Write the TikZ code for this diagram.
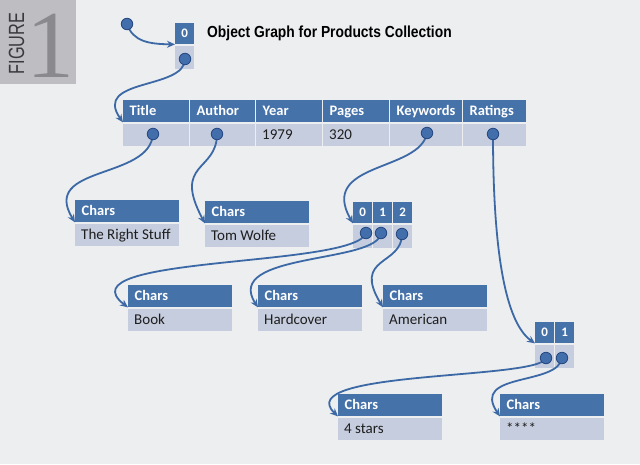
\documentclass[tikz,border=0pt]{standalone}
\usepackage{fontspec}
\setmainfont{Carlito}
\newfontfamily\titlefont{Liberation Sans}
\newfontfamily\serifnum{Liberation Serif}
\usetikzlibrary{arrows.meta}
\pgfdeclarelayer{fg}
\pgfsetlayers{main,fg}
\definecolor{bgc}{RGB}{236,238,240}
\definecolor{figgray}{RGB}{190,190,194}
\definecolor{figtxt}{RGB}{58,58,62}
\definecolor{onegray}{RGB}{138,138,142}
\definecolor{hdr}{RGB}{70,114,170}
\definecolor{bodyc}{RGB}{198,205,222}
\definecolor{txt}{RGB}{30,30,30}
\definecolor{lineblue}{RGB}{60,105,165}
\definecolor{dotfill}{RGB}{66,110,172}
\definecolor{dotdraw}{RGB}{38,72,128}
\begin{document}
\begin{tikzpicture}[x=1pt,y=-1pt,
  hcell/.style={fill=hdr, text=white, font=\bfseries\fontsize{14.5}{16}\selectfont, anchor=north west, inner xsep=6.5pt, inner ysep=0pt, minimum height=22pt, text height=10.8pt, text depth=1.8pt, align=flush left, text width=#1},
  bcell/.style={fill=bodyc, text=txt, font=\fontsize{15}{17}\selectfont, anchor=north west, inner xsep=6pt, inner ysep=0pt, minimum height=22pt, text height=11.2pt, text depth=2.4pt, align=flush left, text width=#1},
  icell/.style={fill=hdr, text=white, font=\bfseries\fontsize{13}{14}\selectfont, anchor=north west, inner sep=0pt, minimum width=19pt, minimum height=21pt},
  ecell/.style={fill=bodyc, anchor=north west, inner sep=0pt, minimum width=19pt, minimum height=23pt},
  dot/.style={circle, fill=dotfill, draw=dotdraw, line width=0.8pt, minimum size=11.5pt, inner sep=0pt},
  conn/.style={draw=lineblue, line width=1.8pt, -{Stealth[length=8pt,width=7pt]}},
]
\useasboundingbox (0,0) rectangle (640,464);
\fill[bgc] (0,0) rectangle (640,464);

% figure tag
\fill[figgray] (0,0) rectangle (76,84);
\node[rotate=90, text=figtxt, inner sep=0pt, font=\titlefont\fontsize{22}{22}\selectfont] (figword) at (16.5,43.5) {\scalebox{0.74}[1]{FIGURE}};
\node[text=onegray, inner sep=0pt, anchor=base, font=\serifnum\fontsize{96}{96}\selectfont] (fignum) at (51,77) {1};

% title
\node[anchor=base west, inner sep=0pt, text=black, font=\titlefont\bfseries\fontsize{16}{17}\selectfont] (title) at (207,37.5) {\scalebox{0.865}[1]{Object Graph for Products Collection}};

% root array
\node[icell] (r0h) at (175,23) {0};
\node[ecell] (r0b) at (175,46) {};

% main table
\node[hcell=52.5pt] (hT) at (123,100) {Title};
\node[hcell=51.5pt] (hA) at (190,100) {Author};
\node[hcell=52.5pt] (hY) at (256,100) {Year};
\node[hcell=52.5pt] (hP) at (323,100) {Pages};
\node[hcell=58.5pt] (hK) at (390,100) {Keywords};
\node[hcell=50pt]   (hR) at (463,100) {Ratings};
\node[bcell=53.5pt] (bT) at (123,124) {};
\node[bcell=52.5pt] (bA) at (190,124) {};
\node[bcell=53.5pt] (bY) at (256,124) {1979};
\node[bcell=53.5pt] (bP) at (323,124) {320};
\node[bcell=59.5pt] (bK) at (390,124) {};
\node[bcell=51pt]   (bR) at (463,124) {};

% chars boxes
\node[hcell=91pt] (c1h) at (75,200) {Chars};
\node[bcell=92pt] (c1b) at (75,224) {The Right Stuff};
\node[hcell=91pt] (c2h) at (205,201) {Chars};
\node[bcell=92pt] (c2b) at (205,225) {Tom Wolfe};
\node[hcell=91pt] (c3h) at (128,285) {Chars};
\node[bcell=92pt] (c3b) at (128,309) {Book};
\node[hcell=91pt] (c4h) at (258,285) {Chars};
\node[bcell=92pt] (c4b) at (258,309) {Hardcover};
\node[hcell=91pt] (c5h) at (383,285) {Chars};
\node[bcell=92pt] (c5b) at (383,309) {American};
\node[hcell=91pt] (c6h) at (338,394) {Chars};
\node[bcell=92pt] (c6b) at (338,418) {4 stars};
\node[hcell=91pt] (c7h) at (500,394) {Chars};
\node[bcell=92pt] (c7b) at (500,418) {****};

% keywords array
\node[icell] (k0h) at (353,202) {0};
\node[icell] (k1h) at (373,202) {1};
\node[icell] (k2h) at (393,202) {2};
\node[ecell] (k0b) at (353,225) {};
\node[ecell] (k1b) at (373,225) {};
\node[ecell] (k2b) at (393,225) {};

% ratings array
\node[icell] (q0h) at (535,322) {0};
\node[icell] (q1h) at (555,322) {1};
\node[ecell] (q0b) at (535,345) {};
\node[ecell] (q1b) at (555,345) {};

% dots
\begin{pgfonlayer}{fg}
\node[dot] (d0) at (127,24) {};
\node[dot] (dr) at (185,59) {};
\node[dot] (dT) at (153,134) {};
\node[dot] (dA) at (217,134) {};
\node[dot] (dK) at (427,133) {};
\node[dot] (dR) at (493,134) {};
\node[dot] (dk0) at (366,233) {};
\node[dot] (dk1) at (381,233) {};
\node[dot] (dk2) at (402,234) {};
\node[dot] (dq0) at (546,358) {};
\node[dot] (dq1) at (562,358) {};
\end{pgfonlayer}

% connectors
\draw[conn] (d0.center) .. controls (133,42) and (150,44) .. (r0h.south west);
\draw[conn] (dr.center) .. controls (185,90) and (92,78) .. (hT.south west);
\draw[conn] (dT.center) .. controls (150,180) and (40,165) .. (c1h.south west);
\draw[conn] (dA.center) .. controls (217,172) and (172,162) .. (c2h.south west);
\draw[conn] (dK.center) .. controls (420,172) and (318,162) .. (k0h.south west);
\draw[conn] (dR.center) .. controls (493,250) and (505,322) .. (q0h.south west);
\draw[conn] (dk0.center) .. controls (355,268) and (60,255) .. (c3h.south west);
\draw[conn] (dk1.center) .. controls (378,264) and (222,252) .. (c4h.south west);
\draw[conn] (dk2.center) .. controls (402,266) and (352,256) .. (c5h.south west);
\draw[conn] (dq0.center) .. controls (540,380) and (290,370) .. (c6h.south west);
\draw[conn] (dq1.center) .. controls (558,386) and (470,372) .. (c7h.south west);
\end{tikzpicture}
\end{document}
